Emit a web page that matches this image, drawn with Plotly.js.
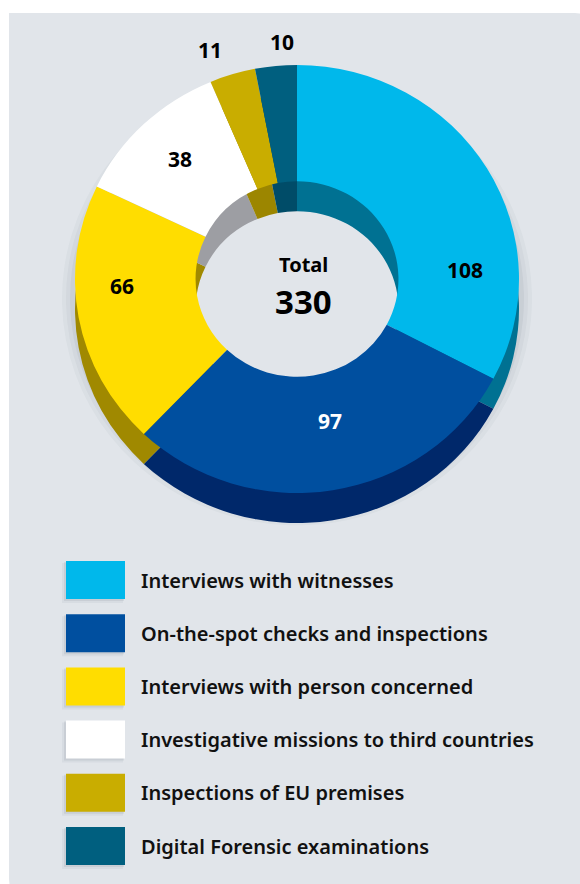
<!DOCTYPE html>
<html>
<head>
<meta charset="utf-8">
<script src="https://cdn.plot.ly/plotly-3.0.1.min.js"></script>
<style>
  html, body { margin:0; padding:0; background:#ffffff; width:580px; height:884px; overflow:hidden; }
  #panel { position:absolute; left:9px; top:13px; width:600px; height:900px; background:#e1e5ea;
           border-top-right-radius:34px; border-bottom-left-radius:34px; }
  #pie { position:absolute; left:0; top:0; width:580px; height:884px; transform-origin:0 0; }
  #chart { position:absolute; left:0; top:0; width:580px; height:884px; }
</style>
</head>
<body>
<div id="panel"></div>
<div id="pie"></div>
<div id="chart"></div>
<script>
// ---- data ----
const categories = [
  "Interviews with witnesses",
  "On-the-spot checks and inspections",
  "Interviews with person concerned",
  "Investigative missions to third countries",
  "Inspections of EU premises",
  "Digital Forensic examinations"
];
const values = [108, 97, 66, 38, 11, 10];
const totalLabel = "Total";

// ---- styles ----
const topColors  = ["#00b8eb", "#004f9f", "#ffdd00", "#ffffff", "#c9ad00", "#005f7f"];
const sideColors = ["#007192", "#00286a", "#a08900", "#9d9ea3", "#9c8600", "#004c68"];
const labelColors = ["#000000", "#ffffff", "#000000", "#000000", "#000000", "#000000"];
// label placement (style): radial distance as fraction of radius, angular nudge in degrees
const labelRadius = [0.76, 0.68, 0.79, 0.77, 1.14, 1.11];
const labelNudge  = [28, -3.3, 8, 0.6, -3.2, 2];

const W = 580, H = 884;
const px = v => v / W;          // x pixel -> paper
const py = v => 1 - v / H;      // y pixel -> paper

// donut seen slightly from above: horizontal radius Rx, vertical radius Ry
const cx = 297, cy = 279, Rx = 222, Ry = 214, depth = 30, holeFrac = 0.457;
const squash = Ry / Rx;
document.getElementById("pie").style.transform = "scaleY(" + squash + ")";
const cyU = cy / squash, depthU = depth / squash;   // unsquashed coordinates for the pie div

function dom(cxp, cyp, r) {
  return { x: [px(cxp - r), px(cxp + r)], y: [py(cyp + r), py(cyp - r)] };
}

const total = values.reduce((a, b) => a + b, 0);
const font = "Noto Sans, Open Sans, DejaVu Sans, sans-serif";

const traces = [];
// soft shadow layers
[[13, 0.03], [9, 0.04], [5, 0.055]].forEach(([g, a]) => {
  traces.push({
    type: "pie", values: values, labels: categories, sort: false, direction: "clockwise", rotation: 0,
    hole: 0.62, domain: dom(cx, cyU + depthU / 2 + 5, Rx + g),
    marker: { colors: values.map(() => "rgba(40,50,70," + a + ")"), line: { width: 0 } },
    textinfo: "none", hoverinfo: "skip", showlegend: false
  });
});
// side (extrusion)
traces.push({
  type: "pie", values: values, labels: categories, sort: false, direction: "clockwise", rotation: 0,
  hole: holeFrac, domain: dom(cx, cyU + depthU, Rx),
  marker: { colors: sideColors, line: { width: 0 } },
  textinfo: "none", hoverinfo: "skip", showlegend: false
});
// top face
traces.push({
  type: "pie", values: values, labels: categories, sort: false, direction: "clockwise", rotation: 0,
  hole: holeFrac, domain: dom(cx, cyU, Rx),
  marker: { colors: topColors, line: { width: 0 } },
  textinfo: "none", hoverinfo: "label+value", showlegend: false
});

Plotly.newPlot("pie", traces, {
  width: W, height: H, margin: { l: 0, r: 0, t: 0, b: 0 },
  paper_bgcolor: "rgba(0,0,0,0)", plot_bgcolor: "rgba(0,0,0,0)", showlegend: false
}, { displayModeBar: false, staticPlot: true });

const shapes = [], annotations = [];

// value labels, placed from the slice angles
let cum = 0;
values.forEach((v, i) => {
  const mid = (cum + v / 2) / total * 360 + labelNudge[i];
  cum += v;
  const a = mid * Math.PI / 180;
  annotations.push({ xref: "paper", yref: "paper",
    x: px(cx + labelRadius[i] * Rx * Math.sin(a)), y: py(cy - labelRadius[i] * Ry * Math.cos(a)),
    xanchor: "center", yanchor: "middle", showarrow: false, text: String(v),
    font: { family: font, size: 21, weight: 700, color: labelColors[i] } });
});
// centre total
annotations.push({ xref: "paper", yref: "paper", x: px(cx + 6), y: py(cy - 15),
  xanchor: "center", yanchor: "middle", showarrow: false, text: totalLabel,
  font: { family: font, size: 20, weight: 700, color: "#000000" } });
annotations.push({ xref: "paper", yref: "paper", x: px(cx + 6), y: py(cy + 22),
  xanchor: "center", yanchor: "middle", showarrow: false, text: String(total),
  font: { family: font, size: 33, weight: 700, color: "#000000" } });

// custom legend built from the arrays
const lx0 = 66, lw = 59, lh = 38, ly0 = 561, step = 53.2;
categories.forEach((c, i) => {
  const y0 = ly0 + i * step;
  [[-4, 4, 0.05], [-2, 2, 0.08]].forEach(([dx, dy, a]) => {
    shapes.push({ type: "rect", xref: "paper", yref: "paper", layer: "above",
      x0: px(lx0 + dx), x1: px(lx0 + lw + dx / 2), y0: py(y0 + lh + dy), y1: py(y0 + dy / 2),
      fillcolor: "rgba(40,50,70," + a + ")", line: { width: 0 } });
  });
  shapes.push({ type: "rect", xref: "paper", yref: "paper", layer: "above",
    x0: px(lx0), x1: px(lx0 + lw), y0: py(y0 + lh), y1: py(y0),
    fillcolor: topColors[i], line: { width: 0 } });
  annotations.push({ xref: "paper", yref: "paper", x: px(139), y: py(y0 + lh / 2),
    xanchor: "left", yanchor: "middle", showarrow: false, text: c,
    font: { family: font, size: 20, weight: 580, color: "#111111" } });
});

Plotly.newPlot("chart", [], {
  width: W, height: H, margin: { l: 0, r: 0, t: 0, b: 0 },
  paper_bgcolor: "rgba(0,0,0,0)", plot_bgcolor: "rgba(0,0,0,0)",
  xaxis: { visible: false }, yaxis: { visible: false },
  showlegend: false, shapes: shapes, annotations: annotations
}, { displayModeBar: false, staticPlot: true });
</script>
</body>
</html>
